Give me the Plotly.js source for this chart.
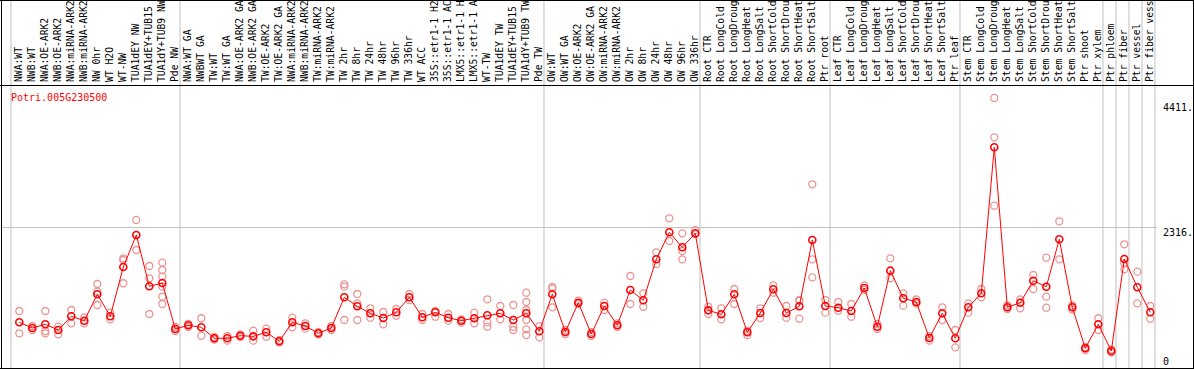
<!DOCTYPE html>
<html><head><meta charset="utf-8">
<script src="https://cdn.plot.ly/plotly-3.0.1.min.js"></script>
<style>html,body{margin:0;padding:0;background:#fff;overflow:hidden}#chart{width:1194px;height:370px}</style>
</head><body><div id="chart"></div>
<script>
const geneName = "Potri.005G230500";

const categories = [
  "NWA:WT","NWB:WT","NWA:OE-ARK2","NWB:OE-ARK2","NWA:miRNA-ARK2","NWB:miRNA-ARK2","NW 0hr","WT H2O","WT-NW","TUA1dEY NW","TUA1dEY+TUB15","TUA1dY+TUB9 NW","Pde NW",
  "NWA:WT GA","NWBWT GA","TW:WT","TW:WT GA","NWA:OE-ARK2 GA","NWB:OE-ARK2 GA","TW:OE-ARK2","TW:OE-ARK2 GA","NWA:miRNA-ARK2","NWB:miRNA-ARK2","TW:miRNA-ARK2","TW:miRNA-ARK2","TW 2hr","TW 8hr","TW 24hr","TW 48hr","TW 96hr","TW 336hr","WT ACC","35S::etr1-1 H2","35S::etr1-1 AC","LMX5::etr1-1 H","LMX5::etr1-1 A","WT-TW","TUA1dEY TW","TUA1dEY+TUB15","TUA1dY+TUB9 TW","Pde TW",
  "OW:WT","OW:WT GA","OW:OE-ARK2","OW:OE-ARK2 GA","OW:miRNA-ARK2","OW:miRNA-ARK2","OW 2hr","OW 8hr","OW 24hr","OW 48hr","OW 96hr","OW 336hr",
  "Root CTR","Root LongCold","Root LongDroug","Root LongHeat","Root LongSalt","Root ShortCold","Root ShortDrou","Root ShortHeat","Root ShortSalt","Ptr root",
  "Leaf CTR","Leaf LongCold","Leaf LongDroug","Leaf LongHeat","Leaf LongSalt","Leaf ShortCold","Leaf ShortDrou","Leaf ShortHeat","Leaf ShortSalt","Ptr leaf",
  "Stem CTR","Stem LongCold","Stem LongDroug","Stem LongHeat","Stem LongSalt","Stem ShortCold","Stem ShortDrou","Stem ShortHeat","Stem ShortSalt","Ptr shoot","Ptr xylem",
  "Ptr phloem","Ptr fiber","Ptr vessel","Ptr fiber vess"
];

const groupSizes = [13, 28, 12, 10, 10, 11, 1, 1, 1, 1];

const meanValues = [
  796,704,764,672,893,822,1247,893,1687,2203,
  1376,1429,688,748,716,538,538,580,570,635,
  490,796,736,619,704,1199,1054,941,865,957,
  1199,877,957,870,822,861,909,941,833,941,
  651,1247,640,1112,608,1059,748,1317,1151,1811,
  2246,2005,2230,989,925,1247,635,946,1328,946,
  1054,2122,1059,1031,978,1349,725,1628,1183,1123,
  543,941,538,1038,1263,3616,1038,1112,1466,1370,
  2134,1038,377,764,334,1816,1360,957
];

const replicateValues = [
  [978,619],[736,672],[978,656,619],[725,603],[994,780],[877,780],[1413,1289,1075],[951,844],[1827,1800,1425],[2445,1961],
  [1703,1505,930],[1757,1639,1531,1370,1209,1091],[720,656],[769,720],[861,580],[559,519],[575,500],[600,559],[661,500],[693,564],
  [511,471],[870,716],[780,693],[640,600],[736,672],[1408,1370,833],[1252,1102,833],[1022,870],[962,764],[1010,902],
  [1252,1155],[930,833],[978,886],[930,822],[844,790],[951,780],[1167,796,725],[1059,844],[1075,725,672],[1273,1123,994,833,683,591],
  [736,554],[1338,1365,1038],[672,608],[1144,1091],[640,575],[1112,994],[780,720],[1542,1091],[1263,1047],[1924,1736],
  [2472,2106],[2230,1945,1811],[2283,2219],[1047,930],[1022,844],[1333,1091],[661,591],[1022,865],[1392,1273],[1059,870],
  [1155,1140,854],[3020,1811,1521],[1155,951],[1123,983],[1091,886],[1392,1317],[769,688],[1827,1505],[1263,1064],[1167,1099],
  [575,500],[1038,833],[672,393],[1102,951],[1333,1199],[4411,3777,2675],[1067,1010],[1167,1022],[1558,1333],[1837,1209,1031],
  [2424,1811],[1067,1002],[398,350],[861,672],[358,309],[2053,1747,1650],[1612,1102],[1059,854]
];

const yTickValues = [4411, 2316, 0];
const yTickLabels = ["4411.", "2316.", "0"];
const gridValues = [2316];

// ---- layout geometry ----
const W = 1194, H = 370;
const M = {l: 1, r: 37, t: 85, b: 1, pad: 0};
const plotW = W - M.l - M.r, plotH = H - M.t - M.b;
const px2paperX = p => (p - M.l) / plotW;
const px2paperY = p => (H - M.b - p) / plotH;
const xRange = [-1.4077, 87.515];
const yRange = [43.5, 4620];
const val2paperY = v => (v - yRange[0]) / (yRange[1] - yRange[0]);

const idx = categories.map((_, i) => i);

const repX = [], repY = [];
replicateValues.forEach((arr, i) => arr.forEach(v => { repX.push(i); repY.push(v); }));

const traces = [
  {x: repX, y: repY, type: 'scatter', mode: 'markers', hoverinfo: 'skip',
   marker: {symbol: 'circle-open', size: 7, color: '#eb9494', line: {width: 1.3, color: '#eb9494'}}},
  {x: idx, y: meanValues, type: 'scatter', mode: 'lines+markers',
   line: {color: '#ff0000', width: 1},
   marker: {symbol: 'circle-open', size: 7, color: '#ff0000', line: {width: 1.6, color: '#ff0000'}}}
];

const shapes = [];
// group separators
let start = 0;
const bounds = [0];
groupSizes.forEach(s => { start += s; bounds.push(start); });
bounds.forEach(b => {
  shapes.push({type: 'line', xref: 'x', yref: 'paper', x0: b - 0.64, x1: b - 0.64,
    y0: px2paperY(368), y1: px2paperY(0.5), line: {color: '#c0c0c0', width: 1}, layer: 'below'});
});
// frame lines
const black = {color: '#000', width: 1};
shapes.push({type: 'line', xref: 'paper', yref: 'paper', x0: px2paperX(0), x1: px2paperX(W), y0: px2paperY(0.5), y1: px2paperY(0.5), line: black});
shapes.push({type: 'line', xref: 'paper', yref: 'paper', x0: px2paperX(0), x1: px2paperX(W), y0: px2paperY(85.5), y1: px2paperY(85.5), line: black});
shapes.push({type: 'line', xref: 'paper', yref: 'paper', x0: px2paperX(0), x1: px2paperX(W), y0: px2paperY(368.5), y1: px2paperY(368.5), line: black});
shapes.push({type: 'line', xref: 'paper', yref: 'paper', x0: px2paperX(1.5), x1: px2paperX(1.5), y0: px2paperY(0), y1: px2paperY(369), line: black});
shapes.push({type: 'line', xref: 'paper', yref: 'paper', x0: px2paperX(1193.5), x1: px2paperX(1193.5), y0: px2paperY(0), y1: px2paperY(369), line: black});

const labelShift = [-10, -5, 10];
const annotations = yTickValues.map((v, k) => ({
  xref: 'paper', yref: 'paper', x: px2paperX(1161), y: val2paperY(v), yshift: labelShift[k],
  xanchor: 'left', yanchor: 'middle', showarrow: false, text: yTickLabels[k],
  font: {family: 'DejaVu Sans Mono', size: 10, color: '#000'}
}));
annotations.push({xref: 'paper', yref: 'paper', x: px2paperX(9), y: px2paperY(97),
  xanchor: 'left', yanchor: 'middle', showarrow: false, text: geneName,
  font: {family: 'DejaVu Sans Mono', size: 10, color: '#ff0000'}});

const layout = {
  width: W, height: H, margin: M, showlegend: false,
  paper_bgcolor: '#fff', plot_bgcolor: '#fff',
  font: {family: 'DejaVu Sans Mono', size: 10, color: '#000'},
  xaxis: {range: xRange, side: 'top', tickmode: 'array', tickvals: idx, ticktext: categories,
    tickangle: -90, ticks: '', ticklabelstandoff: 2, showgrid: false, zeroline: false, showline: false,
    automargin: false, fixedrange: true,
    tickfont: {family: 'DejaVu Sans Mono', size: 9.7, color: '#000'}},
  yaxis: {range: yRange, tickmode: 'array', tickvals: gridValues, showticklabels: false,
    showgrid: true, gridcolor: '#c0c0c0', gridwidth: 1, zeroline: false, showline: false,
    ticks: '', automargin: false, fixedrange: true},
  shapes: shapes, annotations: annotations
};

Plotly.newPlot('chart', traces, layout, {staticPlot: true, displayModeBar: false});
</script>
</body></html>
